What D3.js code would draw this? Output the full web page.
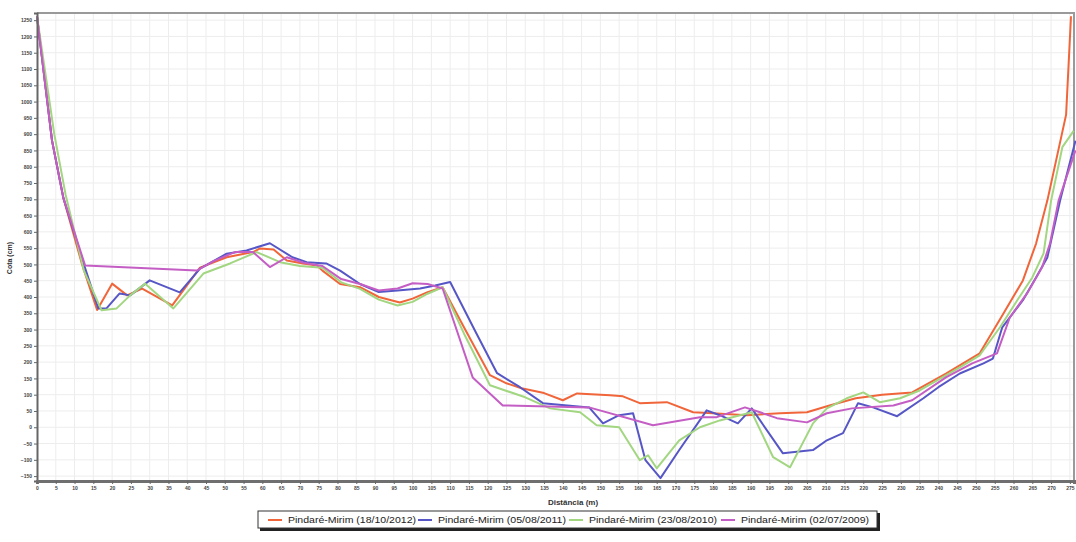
<!DOCTYPE html>
<html>
<head>
<meta charset="utf-8">
<script src="https://cdn.jsdelivr.net/npm/d3@7"></script>
<style>
  body { margin: 0; background: #fff; }
  svg { display: block; font-family: "Liberation Sans", Arial, sans-serif; }
</style>
</head>
<body>
<svg id="chart"></svg>
<script>
const width = 1076;
const height = 542;

// Pindaré-Mirim cross sections, distance (m) / cota (cm)
const dist2012 = [0, 4, 7, 12, 16, 20, 24, 28, 36, 43.4, 50.5, 57.5, 59.4, 63, 66.5, 70.8, 74.5, 76, 80.7, 86, 91, 96.6, 100, 104, 108, 114, 120.6, 125, 129, 135, 140, 143.8, 152.6, 156, 160.5, 167.7, 174.7, 180, 189, 197.8, 205, 211, 218, 225, 233, 242, 251, 257, 262.5, 266, 269, 274, 275.3];
const cota2012 = [1262, 880, 705, 500, 360, 441, 405, 426, 374, 490, 522, 538, 549, 546, 512, 503, 497, 481, 440, 430, 400, 383, 395, 415, 430, 300, 160, 135, 120, 105, 83, 104, 98, 95, 74, 77, 46, 43, 37, 43, 46, 67, 89, 100, 107, 165, 227, 343, 451, 564, 696, 960, 1262];

const dist2011 = [0, 4, 7, 12.5, 16.3, 18.5, 22, 24.8, 30, 38, 43.4, 50.5, 55.8, 62, 68, 71.8, 77, 80.7, 86, 91, 96, 102, 106, 110, 117, 122.5, 128.6, 134.7, 147, 150.7, 155, 158.7, 162, 166, 171, 178.3, 181.8, 186.6, 190.3, 198.6, 206.6, 210.3, 214.6, 218.6, 222.6, 229, 236, 240, 245.7, 252, 254.5, 257, 262.5, 266, 269, 272.4, 276.5];
const cota2011 = [1262, 880, 705, 500, 365, 365, 411, 405, 451, 414, 487, 533, 543, 565, 522, 507, 503, 481, 440, 415, 420, 426, 435, 446, 288, 166, 123, 74, 61, 12, 37, 43, -101, -156, -70, 52, 37, 12, 58, -80, -70, -40, -18, 74, 61, 34, 89, 123, 165, 196, 211, 307, 390, 460, 521, 696, 880];

const dist2010 = [0, 4.6, 7.6, 12.5, 17.2, 21.2, 24.8, 28.8, 36.3, 44.3, 51.4, 58.5, 64.7, 70, 76, 81, 86, 91, 96, 100, 104, 108, 114, 120.6, 130, 136.6, 144.6, 149, 155, 160.5, 162.7, 165, 171, 176.5, 181.8, 190.3, 196, 200.5, 206.6, 210.3, 215.6, 220, 224.4, 229.8, 235, 245.7, 251, 256.4, 261, 265, 268, 270, 273, 276];
const cota2010 = [1262, 900, 715, 480, 359, 365, 405, 441, 365, 472, 503, 538, 507, 495, 490, 445, 425, 392, 374, 385, 410, 430, 280, 129, 92, 58, 46, 6, 0, -101, -86, -126, -40, 0, 21, 46, -92, -123, 12, 58, 89, 107, 77, 89, 113, 184, 221, 307, 390, 460, 534, 696, 860, 910];

const dist2009 = [0, 4, 7, 12.8, 42.5, 47, 52.7, 57.5, 62, 66.5, 71, 76, 81, 86, 91, 96, 100, 104, 108, 116, 124, 147, 164, 176.5, 181, 188.5, 192.5, 197, 205, 210.3, 217, 228, 233, 242, 249, 255.6, 259, 263.6, 267.6, 269.7, 272, 276.5];
const cota2009 = [1262, 880, 705, 497, 481, 510, 538, 538, 492, 522, 505, 495, 455, 440, 420, 426, 442, 440, 426, 153, 67, 61, 6, 31, 31, 61, 46, 28, 15, 43, 58, 67, 83, 153, 196, 227, 337, 411, 491, 564, 696, 850];

const seriesNames = ["Pindaré-Mirim (18/10/2012)", "Pindaré-Mirim (05/08/2011)", "Pindaré-Mirim (23/08/2010)", "Pindaré-Mirim (02/07/2009)"];
const seriesColors = ["#f0653a", "#5656c6", "#a2d681", "#c45ec4"];
const xTicks = d3.range(0, 276, 5);
const yTicks = d3.range(-150, 1251, 50);

const series = [
  {dist: dist2012, cota: cota2012},
  {dist: dist2011, cota: cota2011},
  {dist: dist2010, cota: cota2010},
  {dist: dist2009, cota: cota2009}
].map((s, i) => ({name: seriesNames[i], color: seriesColors[i], points: s.dist.map((d, j) => [d, s.cota[j]])}));

const x = d3.scaleLinear([0, 276.1], [37, 1074]);
const y = d3.scaleLinear([-165, 1272], [481, 13]);

const svg = d3.select('#chart')
    .attr('width', width)
    .attr('height', height)
    .attr('viewBox', [0, 0, width, height]);

// grid
const grid = svg.append('g').attr('stroke', '#ededed').attr('stroke-width', 1);
grid.selectAll('line.v')
  .data(xTicks.slice(1))
  .enter().append('line')
    .attr('class', 'v')
    .attr('x1', d => x(d)).attr('x2', d => x(d))
    .attr('y1', y.range()[1]).attr('y2', y.range()[0]);
grid.selectAll('line.h')
  .data(yTicks)
  .enter().append('line')
    .attr('class', 'h')
    .attr('x1', x.range()[0]).attr('x2', x.range()[1])
    .attr('y1', d => y(d)).attr('y2', d => y(d));

// frame top / right
svg.append('path')
    .attr('d', `M${x.range()[0]},${y.range()[1]} H${x.range()[1]} V${y.range()[0]}`)
    .attr('fill', 'none')
    .attr('stroke', '#9a9a9a')
    .attr('stroke-width', 2);

// lines
const line = d3.line().x(d => x(d[0])).y(d => y(d[1]));
svg.append('g').attr('id', 'lines')
  .selectAll('path')
  .data(series)
  .enter().append('path')
    .attr('fill', 'none')
    .attr('stroke', d => d.color)
    .attr('stroke-width', 2)
    .attr('stroke-linejoin', 'round')
    .attr('d', d => line(d.points));

// y axis
const yAxis = svg.append('g')
    .attr('transform', `translate(${x.range()[0]},0)`)
    .call(d3.axisLeft(y).tickValues(yTicks).tickFormat(d3.format('d')).tickSize(3).tickPadding(2));
yAxis.select('.domain').attr('stroke', '#666').attr('stroke-width', 2);
yAxis.selectAll('.tick line').attr('stroke', '#666');
yAxis.selectAll('.tick text').attr('font-size', 5).attr('fill', '#444').attr('font-weight', 'bold');

// x axis
const xAxis = svg.append('g')
    .attr('transform', `translate(0,${y.range()[0]})`)
    .call(d3.axisBottom(x).tickValues(xTicks).tickFormat(d3.format('d')).tickSize(3).tickPadding(2));
xAxis.select('.domain').attr('stroke', '#6f6f6f').attr('stroke-width', 3);
xAxis.selectAll('.tick line').attr('stroke', '#666');
xAxis.selectAll('.tick text').attr('font-size', 5).attr('fill', '#444').attr('font-weight', 'bold');

// axis titles
svg.append('text')
    .attr('x', 573).attr('y', 505)
    .attr('text-anchor', 'middle')
    .attr('font-size', 8)
    .attr('font-weight', 'bold')
    .attr('fill', '#333')
    .text('Distância (m)');

svg.append('text')
    .attr('transform', 'translate(12,258) rotate(-90)')
    .attr('text-anchor', 'middle')
    .attr('font-size', 7)
    .attr('font-weight', 'bold')
    .attr('fill', '#333')
    .text('Cota (cm)');

// legend
const legend = svg.append('g').attr('id', 'legend');
legend.append('rect')
    .attr('x', 260).attr('y', 513)
    .attr('width', 620).attr('height', 18)
    .attr('fill', '#222');
legend.append('rect')
    .attr('x', 258).attr('y', 511)
    .attr('width', 619).attr('height', 17)
    .attr('fill', '#fff')
    .attr('stroke', '#333')
    .attr('stroke-width', 1);
const itemX = [268, 418, 569, 721];
const items = legend.selectAll('g.item')
  .data(series)
  .enter().append('g')
    .attr('class', 'item')
    .attr('transform', (d, i) => `translate(${itemX[i]},520)`);
items.append('line')
    .attr('x1', 0).attr('x2', 14)
    .attr('stroke', d => d.color)
    .attr('stroke-width', 2);
items.append('text')
    .attr('x', 20)
    .attr('y', 3)
    .attr('font-size', 9)
    .attr('fill', '#222')
    .attr('textLength', 128)
    .attr('lengthAdjust', 'spacingAndGlyphs')
    .text(d => d.name);
</script>
</body>
</html>
